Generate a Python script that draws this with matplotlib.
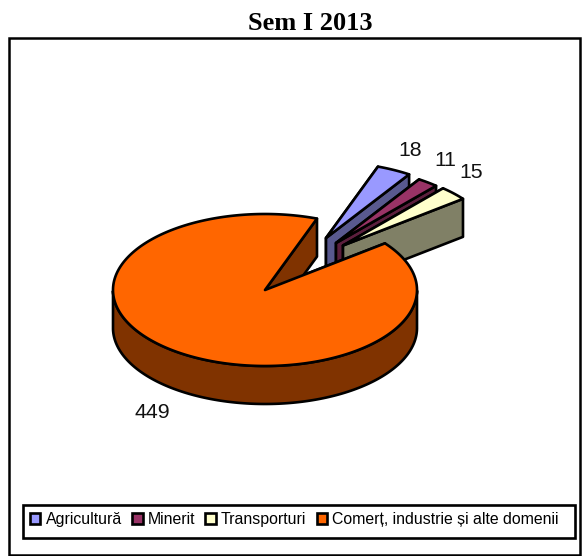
import matplotlib
matplotlib.use("Agg")
import matplotlib.pyplot as plt
from matplotlib.patches import Polygon, Rectangle, Patch
import numpy as np

categories = ["Agricultură", "Minerit", "Transporturi", "Comerț, industrie și alte domenii"]
values = [18, 11, 15, 449]
title = "Sem I 2013"

top_colors = ["#9999FF", "#993366", "#FFFFCC", "#FF6600"]
side_colors = ["#59598F", "#5C1F3D", "#808066", "#803300"]

# pie geometry, in pixels of the picture
cx, cy = 265, 290
rx, ry = 152, 76
depth = 38
first_angle = 20  # degrees clockwise from 12 o'clock
shift_x = [61, 71, 78, 0]  # how far each slice is pulled out
shift_y = [-52, -47, -44.5, 0]
label_pos = [(410, 150), (445, 161), (471, 173), (152, 412)]

fig = plt.figure(figsize=(5.82, 5.56), dpi=100)
ax = fig.add_axes([0, 0, 1, 1])
ax.set_xlim(0, 582)
ax.set_ylim(556, 0)
ax.axis("off")

ax.add_patch(Rectangle((9, 38), 571, 517, fc="white", ec="black", lw=1.8, zorder=0))


def rim(a, x0, y0):
    a = np.radians(a)
    return np.column_stack([x0 + rx * np.sin(a), y0 - ry * np.cos(a)])


def draw_slice(a0, a1, x0, y0, top, side, z):
    line = dict(ec="black", lw=1.9, joinstyle="round", zorder=z)
    # cut faces, the one that faces the viewer comes out on top of the other
    for a in (a0, a1):
        p = rim(a, x0, y0)[0]
        quad = [(x0, y0), p, (p[0], p[1] + depth), (x0, y0 + depth)]
        ax.add_patch(Polygon(quad, fc=side, **line))
    # outer wall only where it faces down
    angles = np.linspace(a0, a1, 300)
    angles = angles[(np.mod(angles, 360) >= 90) & (np.mod(angles, 360) <= 270)]
    if len(angles):
        edge = rim(angles, x0, y0)
        wall = np.vstack([edge, (edge + [0, depth])[::-1]])
        ax.add_patch(Polygon(wall, fc=side, **line))
    arc = rim(np.linspace(a0, a1, 300), x0, y0)
    ax.add_patch(Polygon(np.vstack([[(x0, y0)], arc]), fc=top, **line))


sweeps = np.array(values) / sum(values) * 360
starts = first_angle + np.concatenate([[0], np.cumsum(sweeps)[:-1]])

for i in range(len(values)):
    draw_slice(starts[i], starts[i] + sweeps[i], cx + shift_x[i], cy + shift_y[i],
               top_colors[i], side_colors[i], 2 + i)

for v, (x, y) in zip(values, label_pos):
    ax.text(x, y, str(v), fontsize=15.3, family="Liberation Sans", color="#111111",
            ha="center", va="center", zorder=10)

ax.text(310.5, 24, title, fontsize=19, family="Liberation Serif", weight="bold",
        ha="center", va="center")

# legend box is drawn apart, the text does not sit centred in it
ax.add_patch(Rectangle((23, 505), 552, 33, fc="white", ec="black", lw=1.9, zorder=11))
handles = [Patch(fc=c, ec="black", lw=1.9) for c in top_colors]
leg = ax.legend(handles, categories, ncol=4, loc="center left",
                bbox_to_anchor=(30, 519.5), bbox_transform=ax.transData,
                prop={"family": "Liberation Sans", "size": 11.4},
                frameon=False,
                handlelength=0.66, handleheight=0.7, handletextpad=0.32,
                columnspacing=0.65, borderpad=0, borderaxespad=0)
leg.set_zorder(12)

fig.savefig("out.png", dpi=100)
